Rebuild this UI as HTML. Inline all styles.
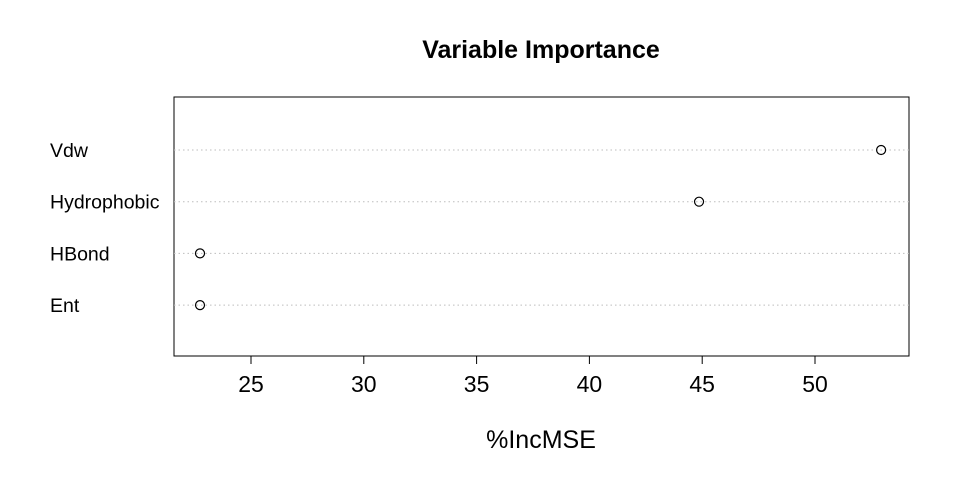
<!DOCTYPE html>
<html><head><meta charset="utf-8">
<style>
html,body{margin:0;padding:0;background:#fff;}
svg{display:block;font-family:"Liberation Sans",Arial,sans-serif;}
</style></head>
<body>
<svg id="chart" width="960" height="480" viewBox="0 0 960 480">
<text x="541" y="58" text-anchor="middle" font-size="25" font-weight="bold">Variable Importance</text>
<rect x="174" y="97" width="735" height="259" fill="none" stroke="#000" stroke-width="1"/>
<g id="grid"></g>
<g id="points"></g>
<g id="ylabels"></g>
<g id="xaxis"></g>
<text x="541" y="448" text-anchor="middle" font-size="25">%IncMSE</text>
</svg>
<script>
const categories = ["Vdw","Hydrophobic","HBond","Ent"];
const values = [52.93, 44.86, 22.74, 22.74];
const xTicks = [25,30,35,40,45,50];

const NS = "http://www.w3.org/2000/svg";
function xs(v){ return 251 + (v - 25) * 22.56; }
function ys(i){ return 150 + i * 51.7; }
function mk(tag, attrs, parent){
  const e = document.createElementNS(NS, tag);
  for (const k in attrs) e.setAttribute(k, attrs[k]);
  parent.appendChild(e);
  return e;
}
const grid = document.getElementById('grid');
const pts = document.getElementById('points');
const yl = document.getElementById('ylabels');
const xa = document.getElementById('xaxis');

categories.forEach((c, i) => {
  const y = ys(i);
  const g = mk('line', {x1:174, x2:909, y1:y, y2:y, stroke:'#bdbdbd', 'stroke-width':1, 'stroke-dasharray':'1.5,3'}, grid);
  
  
  const p = mk('circle', {cx:xs(values[i]), cy:y, r:4.5, fill:'none', stroke:'#000', 'stroke-width':1.2}, pts);
  
  
  const t = mk('text', {x:50, y:y + 7, 'font-size':19.5}, yl);
  t.textContent = c;
  
  
});

const axisLine = mk('line', {x1:xs(xTicks[0]), x2:xs(xTicks[xTicks.length-1]), y1:356, y2:356, stroke:'#000', 'stroke-width':1}, xa);


xTicks.forEach(v => {
  const x = xs(v);
  const tk = mk('line', {x1:x, x2:x, y1:356, y2:364, stroke:'#000', 'stroke-width':1}, xa);
  
  
  const lb = mk('text', {x:x, y:392, 'text-anchor':'middle', 'font-size':23}, xa);
  lb.textContent = v;
  
  
});
</script>
</body></html>
